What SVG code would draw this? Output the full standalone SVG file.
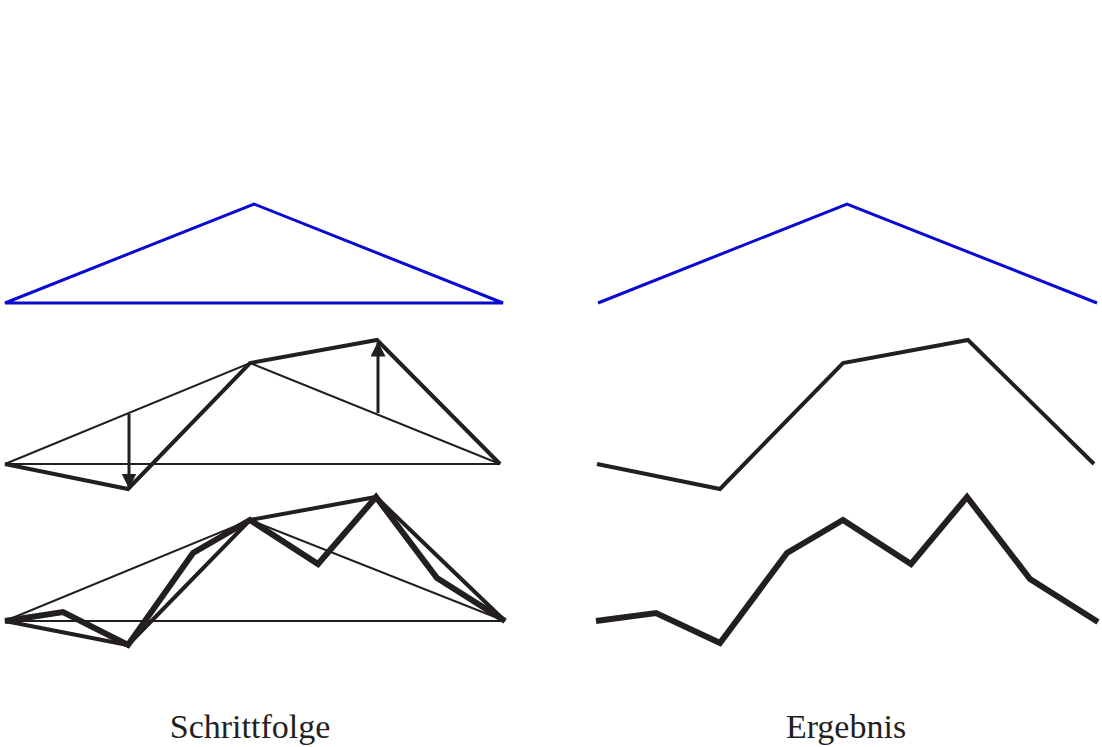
<svg xmlns="http://www.w3.org/2000/svg" width="1102" height="747" viewBox="0 0 1102 747">
<style>
.blue{fill:none;stroke:#0a0ad2;stroke-width:3;stroke-linejoin:miter}
.thin{fill:none;stroke:#231f20;stroke-width:2}
.mid{fill:none;stroke:#231f20;stroke-width:4;stroke-linejoin:miter}
.thick{fill:none;stroke:#231f20;stroke-width:6;stroke-linejoin:miter}
.arr{fill:none;stroke:#231f20;stroke-width:3}
.lbl{font-family:"Liberation Serif",serif;font-size:34px;fill:#231f20;text-anchor:middle}
</style>
<defs>
<marker id="ah" viewBox="0 0 10 10" refX="9" refY="5" markerWidth="5" markerHeight="5" orient="auto" markerUnits="strokeWidth">
<path d="M0,0 L10,5 L0,10 Z" fill="#231f20"/>
</marker>
</defs>
<g id="left-top">
<polygon class="blue" points="5,303 254,204 503,303"/>
</g>
<g id="right-top">
<polyline class="blue" points="598,303 847,204 1097,303"/>
</g>
<g id="left-middle">
<polygon class="thin" points="5,464 250,363 500,464"/>
<polyline class="mid" points="5,464 128,489 250,363 377,340 500,464"/>
</g>
<g id="connectors">
<line class="arr" x1="129" y1="414" x2="129" y2="487" marker-end="url(#ah)"/>
<line class="arr" x1="378" y1="413" x2="378" y2="343" marker-end="url(#ah)"/>
</g>
<g id="right-middle">
<polyline class="mid" points="597,464 720,489 843,363 968,340 1094,464"/>
</g>
<g id="left-bottom">
<polygon class="thin" points="5,621 250,520 505,621"/>
<polyline class="mid" points="5,621 128,645 250,520 376,497 505,621"/>
<polyline class="thick" points="5,621 63,612 128,645 193,553 250,520 318,564 376,497 437,578 505,621"/>
</g>
<g id="right-bottom">
<polyline class="thick" points="596,621 656,613 720,643 787,553 843,520 911,564 967,497 1030,579 1098,622"/>
</g>
<g id="labels">
<text class="lbl" x="250" y="738">Schrittfolge</text>
<text class="lbl" x="846" y="738">Ergebnis</text>
</g>
</svg>
